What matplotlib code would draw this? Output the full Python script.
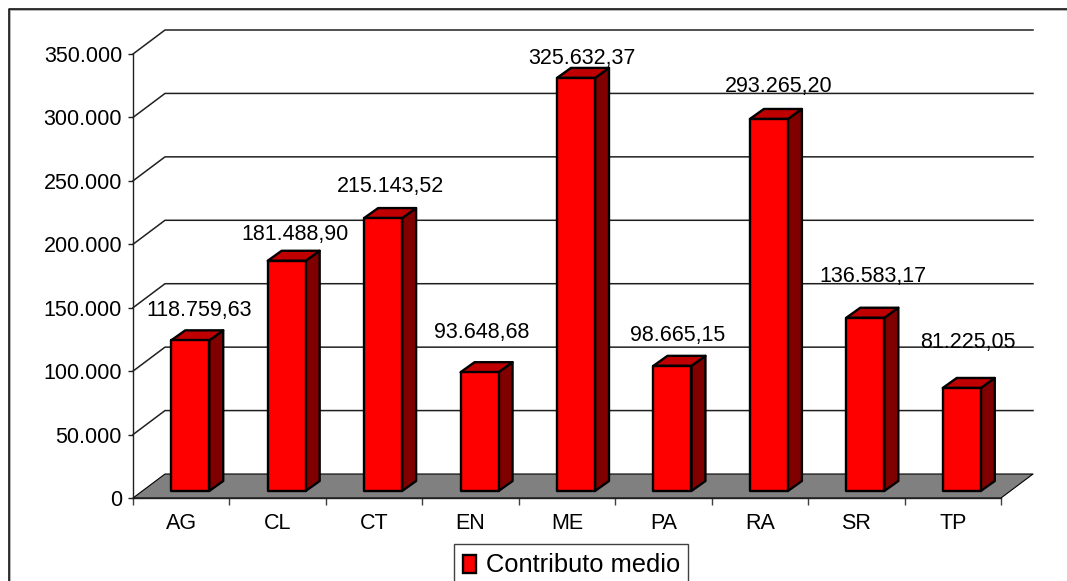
"""Recreates 3-D style bar chart of mean contribution per province."""

import matplotlib
matplotlib.use('agg')
from matplotlib import pyplot
from matplotlib.legend_handler import HandlerPatch
from matplotlib.lines import Line2D
from matplotlib.patches import Patch, Polygon, Rectangle
from matplotlib.transforms import IdentityTransform

FIGURE_WIDTH_PX = 1067
FIGURE_HEIGHT_PX = 581
FIGURE_RESOLUTION_DPI = 100

CATEGORIES = ['AG', 'CL', 'CT', 'EN', 'ME', 'PA', 'RA', 'SR', 'TP']
VALUES = [
    118759.63, 181488.90, 215143.52, 93648.68, 325632.37, 98665.15,
    293265.20, 136583.17, 81225.05
]
VALUE_LABELS = [
    '118.759,63', '181.488,90', '215.143,52', '93.648,68', '325.632,37',
    '98.665,15', '293.265,20', '136.583,17', '81.225,05'
]
TICK_VALUES = [0, 50000, 100000, 150000, 200000, 250000, 300000, 350000]
TICK_LABELS = [
    '0', '50.000', '100.000', '150.000', '200.000', '250.000', '300.000',
    '350.000'
]
SERIES_NAME = 'Contributo medio'

# Label offsets from the bar top, in pixels.
LABEL_OFFSETS_X_PX = [18, 17, 16, 11, 15, 14, 19, 17, 15]
LABEL_OFFSETS_Y_PX = [37, 33, 39, 47, 26, 37, 39, 48, 52]

AXES_LEFT_PX = 133
AXES_RIGHT_PX = 1001
AXES_TOP_PX = 54
AXES_BOTTOM_PX = 498
Y_MAX = 350000

X_PER_PX = float(len(CATEGORIES)) / (AXES_RIGHT_PX - AXES_LEFT_PX)
Y_PER_PX = float(Y_MAX) / (AXES_BOTTOM_PX - AXES_TOP_PX)

WALL_DEPTH_X = 32 * X_PER_PX
WALL_DEPTH_Y = 24 * Y_PER_PX
BAR_FRONT_X = 9.5 * X_PER_PX
BAR_FRONT_Y = 7 * Y_PER_PX
BAR_DEPTH_X = 14 * X_PER_PX
BAR_DEPTH_Y = 10 * Y_PER_PX
BAR_WIDTH = 38 * X_PER_PX

FRONT_COLOUR = '#ff0000'
TOP_COLOUR = '#c00000'
SIDE_COLOUR = '#800000'
FLOOR_COLOUR = '#808080'
FONT_NAME = 'Liberation Sans'
FONT_SIZE = 15.5
EDGE_WIDTH = 1.7


def _add_polygon(axes_object, corners, colour, z_order, line_width=EDGE_WIDTH):
    """Adds unclipped polygon to axes, in data coordinates."""

    axes_object.add_patch(Polygon(
        corners, closed=True, facecolor=colour, edgecolor='k',
        linewidth=line_width, joinstyle='round', clip_on=False, zorder=z_order
    ))


def _plot_walls(axes_object):
    """Plots floor and back-wall gridlines."""

    num_categories = len(CATEGORIES)

    _add_polygon(axes_object, [
        (0, 0), (num_categories, 0),
        (num_categories + WALL_DEPTH_X, WALL_DEPTH_Y),
        (WALL_DEPTH_X, WALL_DEPTH_Y)
    ], FLOOR_COLOUR, 1, line_width=0.8)

    for this_value in TICK_VALUES[1:]:
        axes_object.plot(
            [0, WALL_DEPTH_X, num_categories + WALL_DEPTH_X],
            [this_value, this_value + WALL_DEPTH_Y, this_value + WALL_DEPTH_Y],
            color='#202020', linewidth=1.1, clip_on=False, zorder=1
        )


def _plot_bar(axes_object, index, value):
    """Plots one bar with its front, top and side faces."""

    left = index + (1 - BAR_WIDTH) / 2 + BAR_FRONT_X - 0.5 * X_PER_PX
    right = left + BAR_WIDTH
    bottom = BAR_FRONT_Y
    top = bottom + value

    _add_polygon(axes_object, [
        (right, bottom), (right + BAR_DEPTH_X, bottom + BAR_DEPTH_Y),
        (right + BAR_DEPTH_X, top + BAR_DEPTH_Y), (right, top)
    ], SIDE_COLOUR, 3)
    _add_polygon(axes_object, [
        (left, top), (right, top), (right + BAR_DEPTH_X, top + BAR_DEPTH_Y),
        (left + BAR_DEPTH_X, top + BAR_DEPTH_Y)
    ], TOP_COLOUR, 3)
    _add_polygon(axes_object, [
        (left, bottom), (right, bottom), (right, top), (left, top)
    ], FRONT_COLOUR, 4)


def _plot_frame(figure_object):
    """Plots outer chart frame, which runs off the right and bottom edges."""

    for this_colour, this_shift in [('#a0a0a0', 1.5), ('k', 0)]:
        x_coords = [8.5 + this_shift, 8.5 + this_shift, FIGURE_WIDTH_PX]
        y_coords = [
            0, FIGURE_HEIGHT_PX - 8.5 - this_shift,
            FIGURE_HEIGHT_PX - 8.5 - this_shift
        ]
        figure_object.add_artist(Line2D(
            x_coords, y_coords, color=this_colour, linewidth=1.1,
            transform=IdentityTransform()
        ))


def _plot_legend(figure_object, axes_object):
    """Plots legend.  Its box is separate, since it runs off the bottom edge."""

    figure_object.add_artist(Rectangle(
        (453.5, -10), 234, FIGURE_HEIGHT_PX - 543.5 + 10, facecolor='w',
        edgecolor='#404040', linewidth=1., transform=IdentityTransform(),
        zorder=-1
    ))

    legend_object = axes_object.legend(
        handles=[Patch(
            facecolor=FRONT_COLOUR, edgecolor='k', linewidth=EDGE_WIDTH,
            label=SERIES_NAME
        )],
        handler_map={Patch: HandlerPatch(ypad=-0.11)},
        loc='upper left',
        bbox_to_anchor=(463, FIGURE_HEIGHT_PX - 553),
        bbox_transform=IdentityTransform(), borderaxespad=0, borderpad=0,
        frameon=False, prop={'family': FONT_NAME, 'size': 18.4},
        handlelength=0.52, handleheight=0.52, handletextpad=0.39
    )
    legend_object.set_zorder(10)


def _run():
    """Creates the chart and saves it to out.png."""

    figure_object = pyplot.figure(figsize=(
        float(FIGURE_WIDTH_PX) / FIGURE_RESOLUTION_DPI,
        float(FIGURE_HEIGHT_PX) / FIGURE_RESOLUTION_DPI
    ), dpi=FIGURE_RESOLUTION_DPI)

    axes_object = figure_object.add_axes([
        float(AXES_LEFT_PX) / FIGURE_WIDTH_PX,
        1 - float(AXES_BOTTOM_PX) / FIGURE_HEIGHT_PX,
        float(AXES_RIGHT_PX - AXES_LEFT_PX) / FIGURE_WIDTH_PX,
        float(AXES_BOTTOM_PX - AXES_TOP_PX) / FIGURE_HEIGHT_PX
    ])
    axes_object.patch.set_visible(False)
    axes_object.set_xlim(0, len(CATEGORIES))
    axes_object.set_ylim(0, Y_MAX)

    _plot_walls(axes_object)

    for i in range(len(CATEGORIES)):
        _plot_bar(axes_object, i, VALUES[i])
        axes_object.annotate(
            VALUE_LABELS[i], xy=(i + 0.5, VALUES[i]),
            xytext=(LABEL_OFFSETS_X_PX[i], LABEL_OFFSETS_Y_PX[i]),
            textcoords='offset pixels', ha='center', va='center',
            family=FONT_NAME, fontsize=FONT_SIZE, color='k', zorder=6
        )

    for this_side in ['top', 'right']:
        axes_object.spines[this_side].set_visible(False)
    for this_side in ['left', 'bottom']:
        axes_object.spines[this_side].set_linewidth(1.)
        axes_object.spines[this_side].set_color('#202020')
        axes_object.spines[this_side].set_zorder(5)

    axes_object.set_yticks(TICK_VALUES)
    axes_object.set_yticklabels(TICK_LABELS, family=FONT_NAME, fontsize=FONT_SIZE)
    axes_object.set_xticks(range(len(CATEGORIES) + 1))
    axes_object.set_xticklabels([''] * (len(CATEGORIES) + 1))
    axes_object.set_xticks(
        [i + 0.5 for i in range(len(CATEGORIES))], minor=True
    )
    axes_object.set_xticklabels(
        CATEGORIES, minor=True, family=FONT_NAME, fontsize=FONT_SIZE
    )
    axes_object.tick_params(
        axis='y', length=3.6, width=1., pad=4.3, color='#202020'
    )
    axes_object.tick_params(
        axis='x', which='major', length=5, width=1., color='#404040'
    )
    axes_object.tick_params(axis='x', which='minor', length=0, pad=10.5)

    _plot_legend(figure_object, axes_object)
    _plot_frame(figure_object)

    figure_object.savefig('out.png', dpi=FIGURE_RESOLUTION_DPI)
    pyplot.close(figure_object)


if __name__ == '__main__':
    _run()
